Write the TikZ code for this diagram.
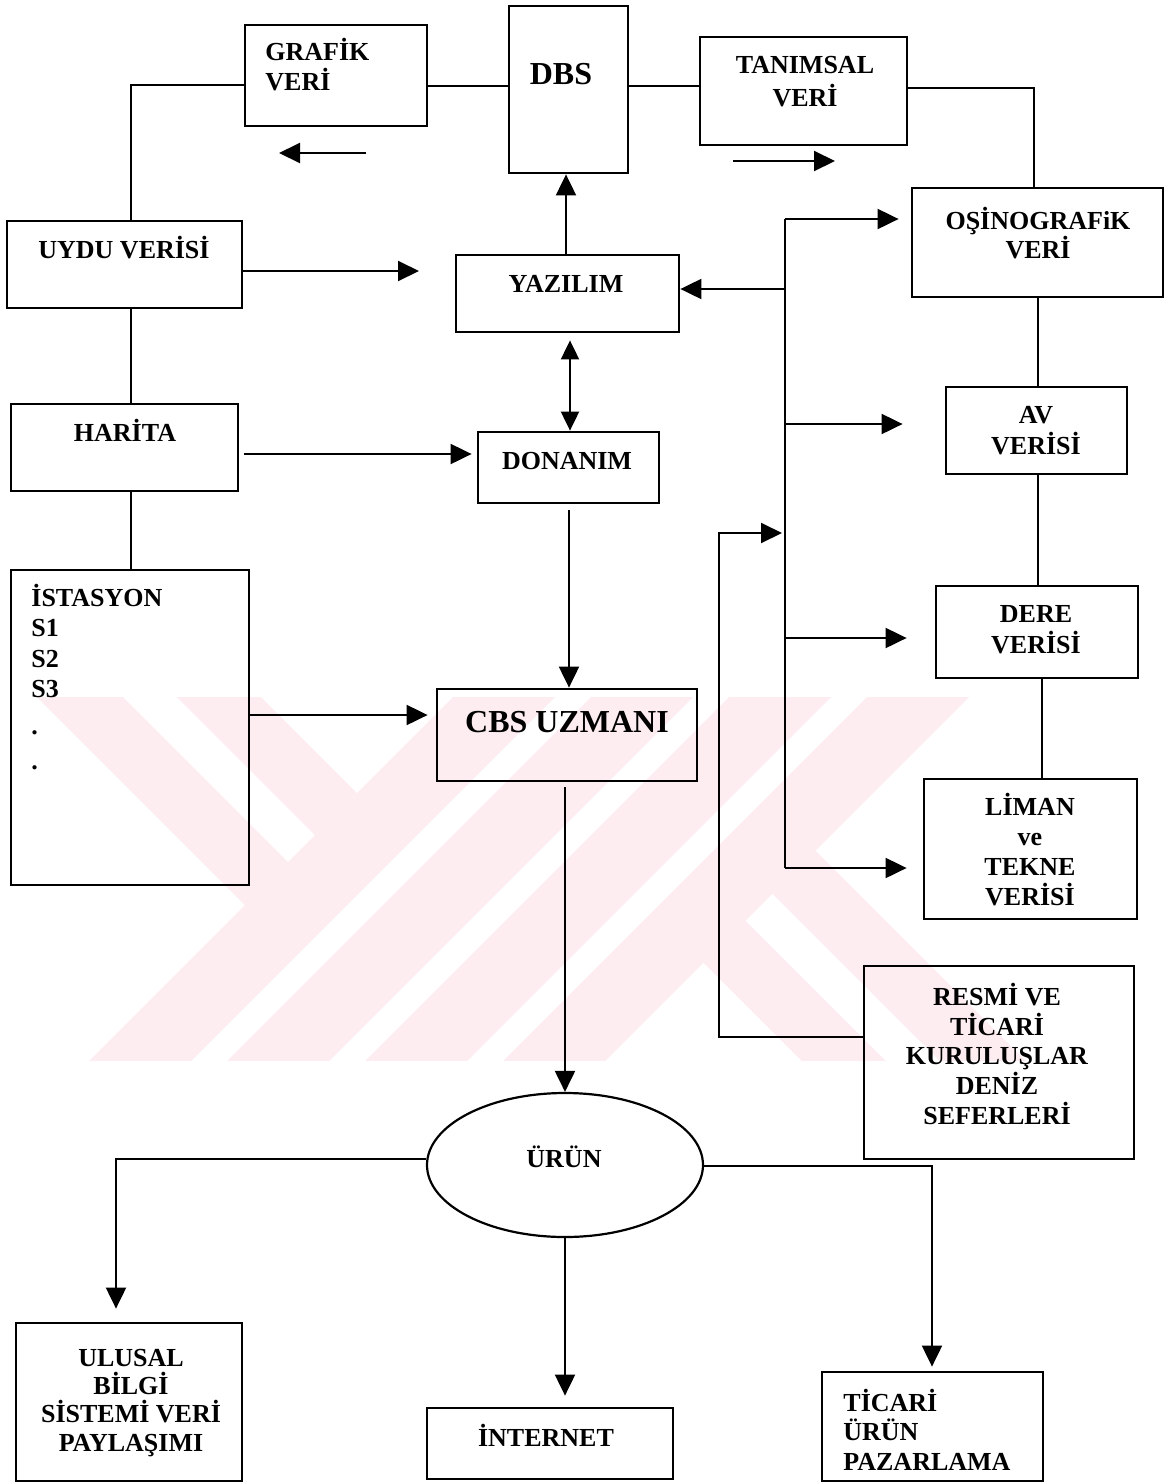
\documentclass[tikz,border=0pt]{standalone}
\usepackage{fontspec}
\setmainfont{Liberation Serif}
\usetikzlibrary{arrows.meta,shapes.geometric,fit}
\definecolor{wmpink}{RGB}{253,237,240}
% fixed first-line height so that text nodes can be placed by their top
\newcommand\tp{\rule{0pt}{11pt}}
\newcommand\tpL{\rule{0pt}{13pt}}
% pink stripe of the background logo, given in diagonal coordinates u=x+y, v=y-x
\newcommand\wmband[4]{\fill[wmpink] ({((#1)-(#3))/2},{((#1)+(#3))/2}) -- ({((#2)-(#3))/2},{((#2)+(#3))/2}) -- ({((#2)-(#4))/2},{((#2)+(#4))/2}) -- ({((#1)-(#4))/2},{((#1)+(#4))/2}) -- cycle;}

\begin{document}
\begin{tikzpicture}[x=0.5pt,y=-0.5pt,
  box/.style={draw, line width=1.4pt, rectangle, inner sep=0pt},
  txt/.style={inner sep=0pt, anchor=north, align=center, font=\bfseries\fontsize{13}{15}\selectfont},
  txtL/.style={inner sep=0pt, anchor=north, align=center, font=\bfseries\fontsize{16}{19}\selectfont},
  lsk/.style={font=\bfseries\fontsize{13}{#1}\selectfont},
  line/.style={line width=1pt},
  arr/.style={line width=1pt, -{Triangle[length=10.5pt,width=10pt]}},
  arrs/.style={line width=1pt, {Triangle[length=9.5pt,width=9pt]}-{Triangle[length=9.5pt,width=9pt]}}]

\useasboundingbox[fill=white] (0,0) rectangle (1168,1484);

% background logo
\begin{scope}
  \clip (0,697) rectangle (1168,1060);
  \wmband{1150}{1252}{-700}{1000}
  \wmband{1288}{1390}{-700}{1000}
  \wmband{1426}{1528}{-700}{1000}
  \wmband{1564}{1666}{-700}{1000}
  \wmband{500}{1150}{436}{520}
  \wmband{500}{1150}{574}{660}
  \wmband{1666}{2300}{35}{121}
  \wmband{1666}{2300}{175}{259}
\end{scope}

% boxes
\node[box, fit={(245,25) (427,126)}] (grafik) {};
\node[box, fit={(509,6) (628,173)}] (dbs) {};
\node[box, fit={(700,37) (907,145)}] (tanim) {};
\node[box, fit={(7,221) (242,308)}] (uydu) {};
\node[box, fit={(456,255) (679,332)}] (yazilim) {};
\node[box, fit={(11,404) (238,491)}] (harita) {};
\node[box, fit={(478,432) (659,503)}] (donanim) {};
\node[box, fit={(11,570) (249,885)}] (istasyon) {};
\node[box, fit={(437,689) (697,781)}] (cbs) {};
\node[box, fit={(912,188) (1163,297)}] (osino) {};
\node[box, fit={(946,387) (1127,474)}] (av) {};
\node[box, fit={(936,586) (1138,678)}] (dere) {};
\node[box, fit={(924,779) (1137,919)}] (liman) {};
\node[box, fit={(864,966) (1134,1159)}] (resmi) {};
\node[box, fit={(16,1323) (242,1481)}] (ulusal) {};
\node[box, fit={(427,1408) (673,1479)}] (internet) {};
\node[box, fit={(822,1372) (1043,1481)}] (ticari) {};
\node[draw, ellipse, line width=1.1pt, minimum width=138pt, minimum height=72pt, inner sep=0pt] (urun) at (565,1165) {};

% labels
\node[txt, lsk=15, anchor=north west, align=left] (tGrafik) at (265,37.6) {\tp GRAFİK\\VERİ};
\node[txtL] (tDbs) at (561,57.6) {\tpL DBS};
\node[txt, lsk=16.5] (tTanim) at (805,50.6) {\tp TANIMSAL\\VERİ};
\node[txt] (tUydu) at (124,235.6) {\tp UYDU VERİSİ};
\node[txt] (tYazilim) at (566,269.6) {\tp YAZILIM};
\node[txt] (tHarita) at (125,418.6) {\tp HARİTA};
\node[txt] (tDonanim) at (567,446.6) {\tp DONANIM};
\node[txt, lsk=15.2, anchor=north west, align=left] (tIstasyon) at (31,583.6) {\tp İSTASYON\\S1\\S2\\S3\\[3.5pt].\\[2.3pt].};
\node[txtL] (tCbs) at (567,705.6) {\tpL CBS UZMANI};
\node[txt, lsk=14.5] (tOsino) at (1038,206.6) {\tp OŞİNOGRAFiK\\VERİ};
\node[txt, lsk=15.5] (tAv) at (1036,400.6) {\tp AV\\VERİSİ};
\node[txt, lsk=15.5] (tDere) at (1036,599.6) {\tp DERE\\VERİSİ};
\node[txt, lsk=15] (tLiman) at (1030,792.6) {\tp LİMAN\\ve\\TEKNE\\VERİSİ};
\node[txt, lsk=14.9] (tResmi) at (997,982.6) {\tp RESMİ VE\\TİCARİ\\KURULUŞLAR\\DENİZ\\SEFERLERİ};
\node[txt] (tUrun) at (564,1144.6) {\tp ÜRÜN};
\node[txt, lsk=14.2] (tUlusal) at (131,1343.6) {\tp ULUSAL\\BİLGİ\\SİSTEMİ VERİ\\PAYLAŞIMI};
\node[txt] (tInternet) at (546,1423.6) {\tp İNTERNET};
\node[txt, lsk=14.8, anchor=north west, align=left] (tTicari) at (843,1388.6) {\tp TİCARİ\\ÜRÜN\\PAZARLAMA};

% lanes and bend points
\coordinate (gk) at (131,85);
\coordinate (ra) at (0,86);
\coordinate (tk) at (1034,88);
\coordinate (ga1) at (366,153);
\coordinate (ga2) at (279,153);
\coordinate (ta1) at (733,161);
\coordinate (ta2) at (835,161);
\coordinate (ue) at (419,271);
\coordinate (hr) at (0,454);
\coordinate (ir) at (0,715);
\coordinate (cx1) at (566,0);
\coordinate (cx2) at (570,0);
\coordinate (cx3) at (569,0);
\coordinate (bt) at (785,219);
\coordinate (bb) at (785,868);
\coordinate (byz) at (785,289);
\coordinate (bav) at (785,424);
\coordinate (bdr) at (785,638);
\coordinate (rk) at (719,1037);
\coordinate (rj) at (719,533);
\coordinate (bj) at (782,533);
\coordinate (vx) at (1038,0);
\coordinate (vx2) at (1042,0);
\coordinate (ul) at (116,1159);
\coordinate (tr) at (932,1166);

% top row
\draw[line] (grafik.west |- gk) -- (gk) -- (uydu.north -| gk);
\draw[line] (grafik.east |- ra) -- (dbs.west |- ra);
\draw[line] (dbs.east |- ra) -- (tanim.west |- ra);
\draw[line] (tanim.east |- tk) -- (tk) -- (osino.north -| tk);
\draw[arr] (ga1) -- (ga2);
\draw[arr] (ta1) -- (ta2);

% left column
\draw[arr] (uydu.east |- ue) -- (ue);
\draw[line] (uydu.south -| gk) -- (harita.north -| gk);
\draw[arr, shorten <=2.5pt, shorten >=2.5pt] (harita.east |- hr) -- (donanim.west |- hr);
\draw[line] (harita.south -| gk) -- (istasyon.north -| gk);
\draw[arr, shorten >=4pt] (istasyon.east |- ir) -- (cbs.west |- ir);

% centre column
\draw[arr] (yazilim.north -| cx1) -- (dbs.south -| cx1);
\draw[arrs, shorten <=3.5pt] (yazilim.south -| cx2) -- (donanim.north -| cx2);
\draw[arr, shorten <=3pt] (donanim.south -| cx3) -- (cbs.north -| cx3);
\draw[arr, shorten <=2.5pt] (cbs.south -| urun.north) -- (urun.north);

% right bus
\draw[line] (bt) -- (bb);
\draw[arr, shorten >=6pt] (bt) -- (osino.west |- bt);
\draw[arr] (byz) -- (yazilim.east |- byz);
\draw[arr, shorten >=21pt] (bav) -- (av.west |- bav);
\draw[arr, shorten >=14pt] (bdr) -- (dere.west |- bdr);
\draw[arr, shorten >=8pt] (bb) -- (liman.west |- bb);
\draw[arr] (resmi.west |- rk) -- (rk) -- (rj) -- (bj);

% right column
\draw[line] (osino.south -| vx) -- (av.north -| vx);
\draw[line] (av.south -| vx) -- (dere.north -| vx);
\draw[line] (dere.south -| vx2) -- (liman.north -| vx2);

% outputs
\draw[arr, shorten >=6.5pt] (urun.west |- ul) -- (ul) -- (ulusal.north -| ul);
\draw[arr, shorten >=5.5pt] (urun.south) -- (internet.north -| urun.south);
\draw[arr, shorten >=2pt] (urun.east |- tr) -- (tr) -- (ticari.north -| tr);
\end{tikzpicture}
\end{document}
